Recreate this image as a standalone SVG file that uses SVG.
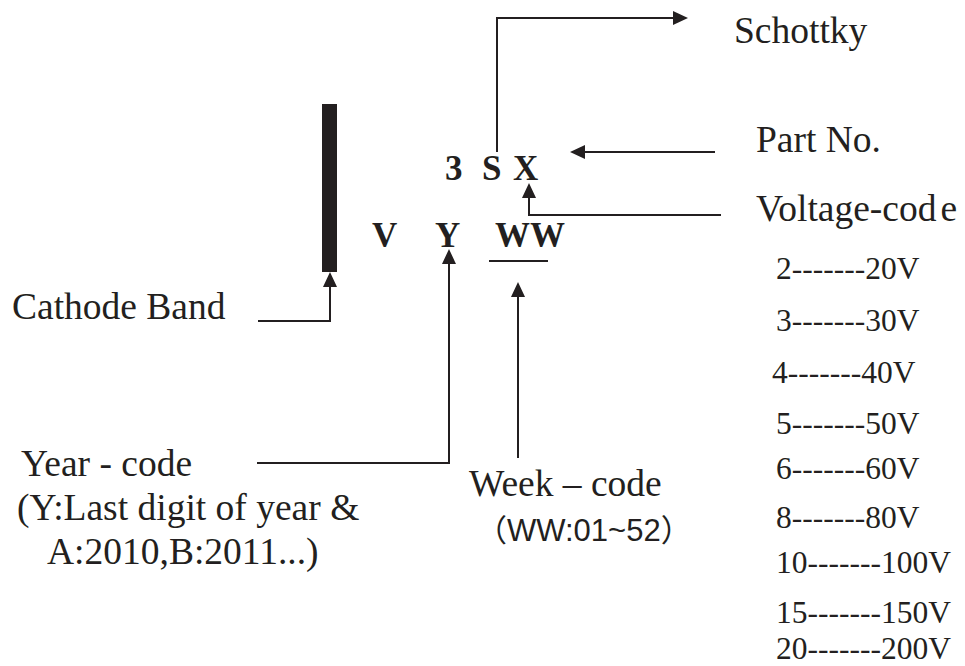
<svg xmlns="http://www.w3.org/2000/svg" width="965" height="666" viewBox="0 0 965 666">
<style>
.t{font-family:"Liberation Serif","Times New Roman",serif;font-size:37.5px;fill:#231f20}
.v{font-family:"Liberation Serif","Times New Roman",serif;font-size:31.5px;fill:#231f20}
.b{font-family:"Liberation Serif","Times New Roman",serif;font-size:35px;font-weight:bold;fill:#231f20}
.s{font-family:"Liberation Sans",Arial,"Noto Sans CJK SC",sans-serif;font-size:31px;fill:#231f20}
.c{fill:none;stroke:#231f20;stroke-width:2}
</style>
<defs>
<marker id="ah" markerUnits="userSpaceOnUse" markerWidth="15" markerHeight="14" refX="13" refY="7" orient="auto">
<path d="M0,0 L15,7 L0,14 Z" fill="#231f20"/>
</marker>
</defs>
<rect width="965" height="666" fill="#fff"/>
<g id="band"><rect x="322" y="104" width="15" height="168" fill="#231f20"/></g>
<g id="code">
<text class="b" y="180"><tspan x="445">3</tspan> <tspan x="482">S</tspan> <tspan x="513">X</tspan></text>
<text class="b" y="247"><tspan x="372">V</tspan> <tspan x="435">Y</tspan> <tspan x="495">WW</tspan></text>
</g>
<g id="schottky"><text class="t" x="734" y="43">Schottky</text></g>
<g id="partno"><text class="t" x="756" y="152">Part No.</text></g>
<g id="voltage">
<text class="t" x="756" y="221">Voltage-cod<tspan dx="4">e</tspan></text>
<text class="v" x="776" y="279">2-------20V</text>
<text class="v" x="776" y="331">3-------30V</text>
<text class="v" x="772" y="383">4-------40V</text>
<text class="v" x="776" y="434">5-------50V</text>
<text class="v" x="776" y="479">6-------60V</text>
<text class="v" x="776" y="528">8-------80V</text>
<text class="v" x="776" y="573">10-------100V</text>
<text class="v" x="776" y="623">15-------150V</text>
<text class="v" x="776" y="659">20-------200V</text>
</g>
<g id="cathode"><text class="t" x="12" y="319">Cathode Band</text></g>
<g id="year">
<text class="t" x="21" y="476">Year - code</text>
<text class="t" x="17" y="520">(Y:Last digit of year &amp;</text>
<text class="t" x="47" y="564">A:2010,B:2011...)</text>
</g>
<g id="week">
<text class="t" x="469" y="496">Week – code</text>
<text class="s" x="476" y="541">（WW:01~52）</text>
</g>
<g id="connectors">
<path class="c" d="M497,152 V18 H686" marker-end="url(#ah)"/>
<path class="c" d="M715,152 H572" marker-end="url(#ah)"/>
<path class="c" d="M721,215 H529 V185" marker-end="url(#ah)"/>
<path class="c" d="M258,321 H330 V274" marker-end="url(#ah)"/>
<path class="c" d="M257,463 H449 V251" marker-end="url(#ah)"/>
<path class="c" d="M518,458 V284" marker-end="url(#ah)"/>
<path class="c" d="M489,261 H548"/>
</g>
</svg>
